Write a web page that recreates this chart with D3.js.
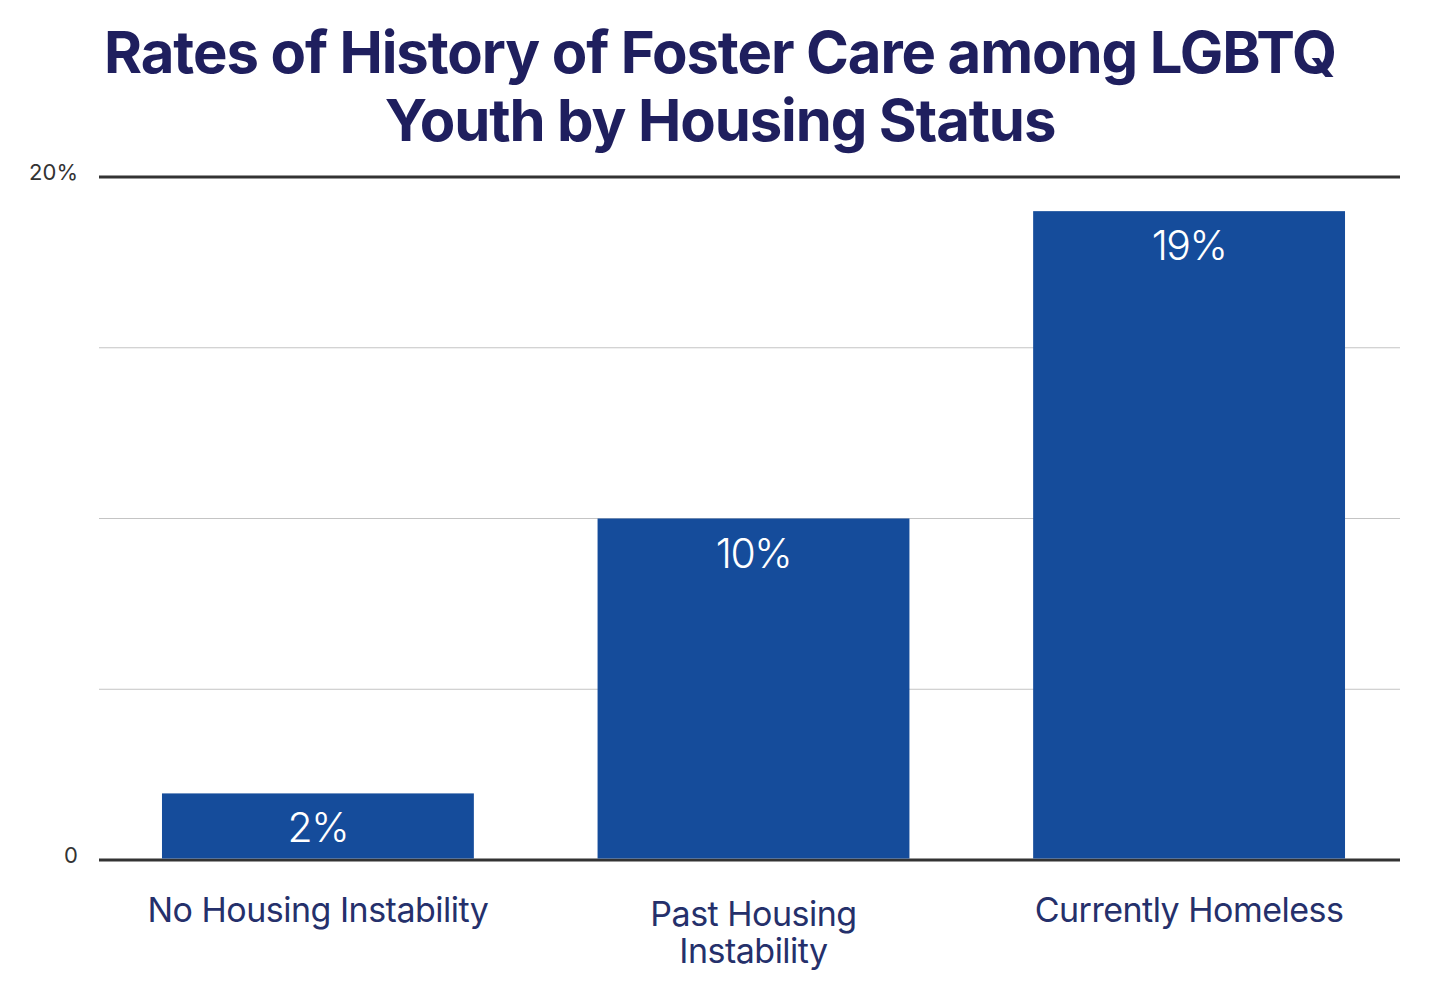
<!DOCTYPE html>
<html>
<head>
<meta charset="utf-8">
<script src="https://cdn.jsdelivr.net/npm/d3@7"></script>
<style>
  body { margin: 0; background: #fff; }
  svg { display: block; }
</style>
</head>
<body>
<svg id="chart" width="1440" height="982"></svg>
<script>
// chart data
const categories = ["No Housing Instability", "Past Housing Instability", "Currently Homeless"];
const categoryLines = [["No Housing Instability"], ["Past Housing", "Instability"], ["Currently Homeless"]];
const values = [1.95, 10, 19];
const valueLabels = ["2%", "10%", "19%"];
const yTicks = [0, 5, 10, 15, 20];
const yTickLabels = { 0: "0", 20: "20%" };
const titleLines = ["Rates of History of Foster Care among LGBTQ", "Youth by Housing Status"];

const svg = d3.select("#chart");
const margin = { left: 99, right: 40, top: 177, bottom: 122 };
const width = 1440, height = 982;

const x = d3.scaleBand()
  .domain(categories)
  .range([101, 1406])
  .paddingInner(0.284)
  .paddingOuter(0.14);

const y = d3.scaleLinear()
  .domain([0, 20])
  .range([height - margin.bottom, margin.top]);

// title
svg.append("text")
  .attr("x", 720)
  .attr("text-anchor", "middle")
  .attr("font-family", "Inter, sans-serif")
  .attr("font-weight", 700)
  .attr("font-size", 58)
  .attr("letter-spacing", -1.1)
  .attr("fill", "#1f1f5e")
  .selectAll("tspan")
  .data(titleLines)
  .join("tspan")
  .attr("x", 720)
  .attr("y", (d, i) => 73 + i * 68)
  .text(d => d);

// gridlines
svg.append("g")
  .selectAll("line")
  .data(yTicks)
  .join("line")
  .attr("x1", margin.left)
  .attr("x2", width - margin.right)
  .attr("y1", d => y(d))
  .attr("y2", d => y(d))
  .attr("stroke", d => (d === 0 || d === 20) ? "#333" : "#c4c4c4")
  .attr("stroke-width", d => (d === 0 || d === 20) ? 3 : 1);

// y tick labels
svg.append("g")
  .selectAll("text")
  .data(yTicks.filter(d => yTickLabels[d] !== undefined))
  .join("text")
  .attr("x", 78)
  .attr("y", d => y(d) + 3)
  .attr("text-anchor", "end")
  .attr("font-family", "Inter, sans-serif")
  .attr("font-size", 22)
  .attr("fill", "#333")
  .text(d => yTickLabels[d]);

// bars
svg.append("g")
  .selectAll("rect")
  .data(values)
  .join("rect")
  .attr("x", (d, i) => x(categories[i]))
  .attr("width", x.bandwidth())
  .attr("y", d => y(d))
  .attr("height", d => y(0) - y(d) - 1.5)
  .attr("fill", "#154c9b");

// value labels
svg.append("g")
  .selectAll("text")
  .data(values)
  .join("text")
  .attr("x", (d, i) => x(categories[i]) + x.bandwidth() / 2)
  .attr("y", d => y(d) + 49)
  .attr("text-anchor", "middle")
  .attr("font-family", "Inter, sans-serif")
  .attr("font-weight", 300)
  .attr("font-size", 41)
  .attr("letter-spacing", -1.5)
  .attr("fill", "#fff")
  .text((d, i) => valueLabels[i]);

// category labels
const catG = svg.append("g")
  .selectAll("text")
  .data(categories)
  .join("text")
  .attr("text-anchor", "middle")
  .attr("font-family", "Inter, sans-serif")
  .attr("font-size", 34)
  .attr("letter-spacing", -0.5)
  .attr("fill", "#25306b");

catG.selectAll("tspan")
  .data((d, i) => categoryLines[i].map(t => ({ t, c: d, n: categoryLines[i].length })))
  .join("tspan")
  .attr("x", d => x(d.c) + x.bandwidth() / 2)
  .attr("y", (d, j) => (d.n > 1 ? 926 : 922) + j * 37)
  .text(d => d.t);
</script>
</body>
</html>
